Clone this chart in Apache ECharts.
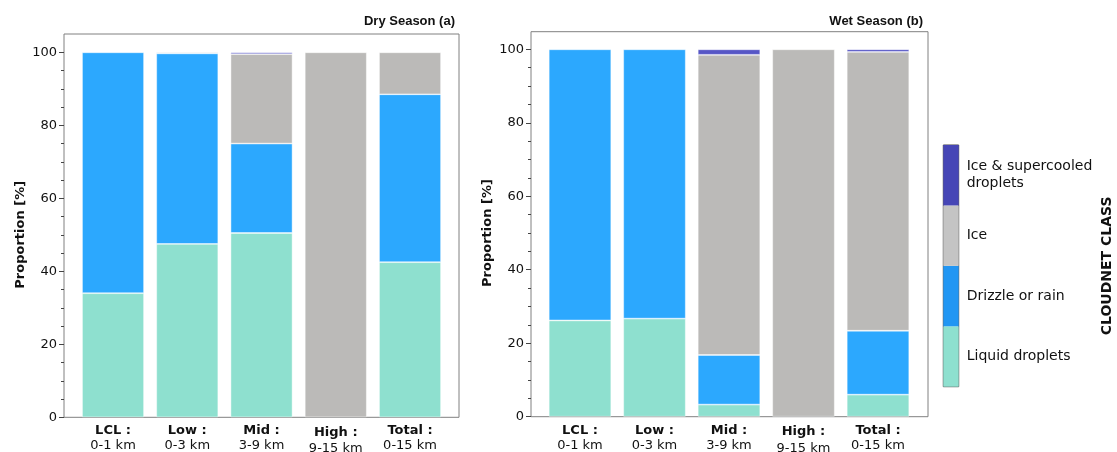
<!DOCTYPE html>
<html>
<head>
<meta charset="utf-8">
<script src="https://cdn.jsdelivr.net/npm/echarts@6/dist/echarts.min.js"></script>
<style>
html,body{margin:0;padding:0;background:#fff;}
#chart{width:1117px;height:452px;}
</style>
</head>
<body>
<div id="chart"></div>
<script>
// ---- data ----
const categories = ['LCL', 'Low', 'Mid', 'High', 'Total'];
const altRanges = ['0-1 km', '0-3 km', '3-9 km', '9-15 km', '0-15 km'];
const classNames = ['Liquid droplets', 'Drizzle or rain', 'Ice', 'Ice & supercooled\ndroplets'];
const dryLiquid   = [34.0, 47.5, 50.5, 0, 42.5];
const dryDrizzle  = [66.0, 52.2, 24.5, 0, 46.0];
const dryIce      = [0, 0.3, 24.5, 100, 11.5];
const dryIceSuper = [0, 0, 0.5, 0, 0];
const wetLiquid   = [26.2, 26.7, 3.3, 0, 6.0];
const wetDrizzle  = [73.8, 73.3, 13.5, 0, 17.4];
const wetIce      = [0, 0, 81.7, 100, 75.9];
const wetIceSuper = [0, 0, 1.5, 0, 0.7];
const colorbarValues = [1, 1, 1, 1];

// ---- styles ----
const barColors = ['#8ee0cf', '#2ca8fe', '#bbbab8', '#5656c6'];
const cbColors  = ['#8ee0cf', '#2196f3', '#c4c4c4', '#4646b6'];
const FONT = 'DejaVu Sans';

const chart = echarts.init(document.getElementById('chart'), null, {renderer: 'canvas'});

function xLabelAxis(gridIndex) {
  return {
    type: 'category', gridIndex: gridIndex, data: categories,
    boundaryGap: true,
    axisLine: {show: false},
    axisTick: {alignWithLabel: true, length: 4, lineStyle: {color: '#444'}},
    axisLabel: {
      margin: 6, color: '#111', fontFamily: FONT, interval: 0,
      formatter: function (v, i) {
        if (v === 'High') return '{hb|' + v + ' :}\n{n|' + altRanges[i] + '}';
        return '{b|' + v + ' :}\n{n|' + altRanges[i] + '}';
      },
      rich: {
        b: {fontWeight: 'bold', fontSize: 13, lineHeight: 15, fontFamily: FONT, color: '#111'},
        hb: {fontWeight: 'bold', fontSize: 13, lineHeight: 18, fontFamily: FONT, color: '#111'},
        n: {fontSize: 13, lineHeight: 15, fontFamily: FONT, color: '#111'}
      }
    }
  };
}
function yValAxis(gridIndex, offset, gap) {
  return {
    type: 'value', gridIndex: gridIndex, min: 0, max: 100, interval: 20,
    offset: offset,
    name: 'Proportion [%]', nameLocation: 'middle', nameRotate: 90, nameGap: gap,
    nameTextStyle: {fontFamily: FONT, fontWeight: 'bold', fontSize: 13, color: '#111'},
    axisLine: {show: false},
    axisTick: {show: true, length: 5, lineStyle: {color: '#444'}},
    minorTick: {show: true, splitNumber: 4, length: 3, lineStyle: {color: '#444'}},
    splitLine: {show: false},
    axisLabel: {margin: 7, fontFamily: FONT, fontSize: 13, color: '#111'}
  };
}
function hiddenAxis(gridIndex) {
  return {type: 'value', gridIndex: gridIndex, show: false, min: 0, max: 1};
}

function panelSeries(axisIndex, stackName, arrays, width) {
  return arrays.map(function (arr, k) {
    return {
      type: 'bar', name: classNames[k], stack: stackName,
      xAxisIndex: axisIndex, yAxisIndex: axisIndex,
      barWidth: width,
      data: arr.map(function (v) { return v === 0 ? '-' : v; }),
      itemStyle: {color: barColors[k], borderColor: 'rgba(255,255,255,0.55)', borderWidth: 0.8},
      emphasis: {disabled: true},
      silent: true
    };
  });
}

const G = {outerBoundsMode: 'none', containLabel: false};
const option = {
  animation: false,
  backgroundColor: '#fff',
  title: [
    {text: 'Dry Season (a)', right: 662, top: 15, padding: 0,
     textStyle: {fontFamily: 'Liberation Sans', fontWeight: 'bold', fontSize: 13, color: '#111'}},
    {text: 'Wet Season (b)', right: 194, top: 15, padding: 0,
     textStyle: {fontFamily: 'Liberation Sans', fontWeight: 'bold', fontSize: 13, color: '#111'}}
  ],
  grid: [
    Object.assign({left: 64, top: 34, width: 395, height: 383.3, show: true, borderColor: '#808080', borderWidth: 1, backgroundColor: 'transparent'}, G),
    Object.assign({left: 75.9, top: 52.3, width: 371.25, height: 365}, G),
    Object.assign({left: 531, top: 31.7, width: 397, height: 385, show: true, borderColor: '#808080', borderWidth: 1, backgroundColor: 'transparent'}, G),
    Object.assign({left: 542.75, top: 49.3, width: 372.5, height: 367.4}, G),
    Object.assign({left: 943.3, top: 145, width: 15.4, height: 241.7, show: true, borderColor: '#444', borderWidth: 1, backgroundColor: 'transparent'}, G)
  ],
  xAxis: [
    hiddenAxis(0),
    xLabelAxis(1),
    hiddenAxis(2),
    xLabelAxis(3),
    {type: 'value', gridIndex: 4, show: false, min: 0, max: 1}
  ],
  yAxis: [
    hiddenAxis(0),
    yValAxis(1, 11.9, 37),
    hiddenAxis(2),
    yValAxis(3, 11.75, 37),
    {
      type: 'category', gridIndex: 4, data: classNames, position: 'right',
      boundaryGap: true,
      axisLine: {show: false},
      axisTick: {alignWithLabel: true, length: 4, lineStyle: {color: '#333'}},
      axisLabel: {margin: 8, fontFamily: FONT, fontSize: 14, color: '#111', lineHeight: 17},
      name: 'CLOUDNET CLASS', nameLocation: 'middle', nameRotate: 90, nameGap: 142,
      nameTextStyle: {fontFamily: FONT, fontWeight: 'bold', fontSize: 14, color: '#111'}
    }
  ],
  series: [].concat(
    panelSeries(1, 'dry', [dryLiquid, dryDrizzle, dryIce, dryIceSuper], 62),
    panelSeries(3, 'wet', [wetLiquid, wetDrizzle, wetIce, wetIceSuper], 62.5),
    [{
      type: 'bar', xAxisIndex: 4, yAxisIndex: 4, barCategoryGap: '0%', silent: true,
      data: colorbarValues.map(function (v, i) { return {value: v, itemStyle: {color: cbColors[i]}}; })
    }]
  )
};
chart.setOption(option);
</script>
</body>
</html>
